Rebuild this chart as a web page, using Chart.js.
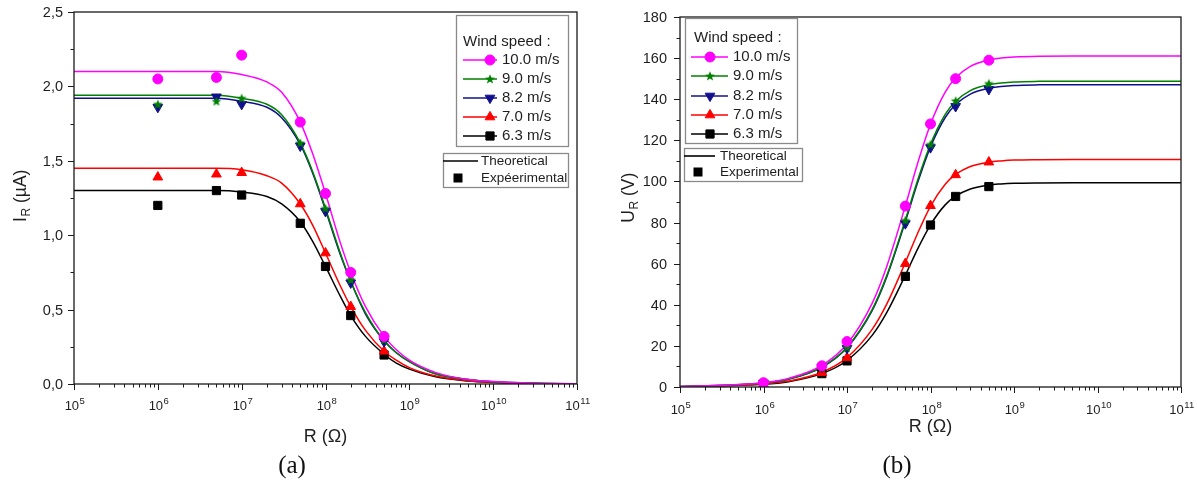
<!DOCTYPE html>
<html>
<head>
<meta charset="utf-8">
<title>I_R and U_R versus load resistance</title>
<script src="https://cdn.jsdelivr.net/npm/chart.js@4.4.0/dist/chart.umd.min.js"></script>
<style>
  html, body { margin: 0; padding: 0; background: #fff; }
  #wrap { position: relative; width: 1197px; height: 484px; overflow: hidden; }
  canvas { position: absolute; top: 0; }
  #chartI { left: 0; }
  #chartU { left: 600px; }
</style>
</head>
<body>
<div id="wrap">
  <canvas id="chartI" width="600" height="484"></canvas>
  <canvas id="chartU" width="597" height="484"></canvas>
</div>
<script>
// ---------- data ----------
// Load resistance (Ohm) for the theoretical curves
const R_GRID = [1e5, 1e6, 2e6, 5e6, 1e7, 2e7, 3e7, 5e7, 7e7, 1e8, 1.5e8, 2e8, 3e8, 5e8, 7e8,
                1e9, 2e9, 5e9, 1e10, 3e10, 1e11];
// Load resistance (Ohm) of the measured points
const R_MEAS = [1e6, 5e6, 1e7, 5e7, 1e8, 2e8, 5e8];

const WIND_SPEEDS = ['10.0 m/s', '9.0 m/s', '8.2 m/s', '7.0 m/s', '6.3 m/s'];

// Current I_R (µA), theoretical
const I_TH_10_0 = [2.10, 2.10, 2.10, 2.10, 2.08, 2.03, 1.96, 1.76, 1.55, 1.28, 0.95, 0.75, 0.52, 0.32, 0.23, 0.16, 0.08, 0.03, 0.016, 0.005, 0.002];
const I_TH_9_0  = [1.94, 1.94, 1.94, 1.94, 1.92, 1.88, 1.81, 1.62, 1.43, 1.18, 0.88, 0.69, 0.48, 0.29, 0.21, 0.15, 0.07, 0.03, 0.015, 0.005, 0.001];
const I_TH_8_2  = [1.92, 1.92, 1.92, 1.92, 1.90, 1.86, 1.79, 1.61, 1.42, 1.17, 0.87, 0.69, 0.47, 0.29, 0.21, 0.15, 0.07, 0.03, 0.015, 0.005, 0.001];
const I_TH_7_0  = [1.45, 1.45, 1.45, 1.45, 1.44, 1.40, 1.35, 1.21, 1.07, 0.88, 0.66, 0.52, 0.36, 0.22, 0.16, 0.11, 0.055, 0.022, 0.011, 0.004, 0.001];
const I_TH_6_3  = [1.30, 1.30, 1.30, 1.30, 1.29, 1.26, 1.21, 1.09, 0.96, 0.79, 0.59, 0.46, 0.32, 0.20, 0.14, 0.10, 0.05, 0.02, 0.01, 0.003, 0.001];

// Current I_R (µA), measured
const I_EXP_10_0 = [2.05, 2.06, 2.21, 1.76, 1.28, 0.75, 0.32];
const I_EXP_9_0  = [1.88, 1.90, 1.92, 1.62, 1.18, 0.70, 0.295];
const I_EXP_8_2  = [1.86, 1.93, 1.88, 1.60, 1.16, 0.68, 0.285];
const I_EXP_7_0  = [1.39, 1.41, 1.42, 1.21, 0.88, 0.52, 0.22];
const I_EXP_6_3  = [1.20, 1.30, 1.27, 1.08, 0.79, 0.46, 0.195];

// Voltage U_R (V), theoretical
const U_TH_10_0 = [0.2, 2.1, 4.2, 10.5, 20.9, 40.7, 58.8, 88.1, 108.7, 127.8, 143.4, 150.4, 156.0, 159.1, 160.0, 160.5, 160.9, 161.0, 161.0, 161.0, 161.0];
const U_TH_9_0  = [0.2, 1.9, 3.9, 9.7, 19.3, 37.6, 54.3, 81.4, 100.5, 118.1, 132.6, 139.0, 144.2, 147.1, 147.9, 148.4, 148.7, 148.8, 148.8, 148.8, 148.8];
const U_TH_8_2  = [0.2, 1.9, 3.8, 9.6, 19.1, 37.2, 53.7, 80.5, 99.3, 116.8, 131.1, 137.4, 142.5, 145.4, 146.2, 146.7, 147.0, 147.1, 147.1, 147.1, 147.1];
const U_TH_7_0  = [0.1, 1.5, 2.9, 7.2, 14.3, 28.0, 40.4, 60.6, 74.7, 87.9, 98.6, 103.4, 107.3, 109.4, 110.0, 110.4, 110.6, 110.7, 110.7, 110.7, 110.7];
const U_TH_6_3  = [0.1, 1.3, 2.6, 6.5, 12.9, 25.1, 36.3, 54.4, 67.1, 78.9, 88.6, 92.8, 96.3, 98.3, 98.8, 99.1, 99.3, 99.4, 99.4, 99.4, 99.4];

// Voltage U_R (V), measured
const U_EXP_10_0 = [2.1, 10.3, 22.1, 88.0, 128.0, 150.0, 159.0];
const U_EXP_9_0  = [1.9, 9.5, 19.2, 81.0, 118.0, 139.2, 147.6];
const U_EXP_8_2  = [1.9, 9.7, 18.8, 79.5, 116.5, 136.5, 144.8];
const U_EXP_7_0  = [1.4, 7.0, 14.2, 60.0, 88.2, 103.2, 109.4];
const U_EXP_6_3  = [1.2, 6.5, 12.7, 53.8, 78.8, 92.7, 97.5];

// Axis ticks
const X_DECADES = [5, 6, 7, 8, 9, 10, 11];
const Y_TICKS_I = [0, 0.5, 1.0, 1.5, 2.0, 2.5];
const Y_TICKS_U = [0, 20, 40, 60, 80, 100, 120, 140, 160, 180];

// ---------- styling ----------
const SANS = '"Liberation Sans", Arial, sans-serif';
const SERIF = '"Liberation Serif", "Times New Roman", serif';
const TEXT = '#1e1e1e';
const SERIES_COLORS = ['#ff00ff', '#008000', '#10108c', '#ff0000', '#000000'];

function makeStar(color) {
  const c = document.createElement('canvas');
  c.width = 12; c.height = 12;
  const g = c.getContext('2d');
  g.fillStyle = color;
  g.beginPath();
  for (let k = 0; k < 10; k++) {
    const r = k % 2 === 0 ? 5.2 : 2.2;
    const ang = -Math.PI / 2 + k * Math.PI / 5;
    const px = 6 + r * Math.cos(ang), py = 6.4 + r * Math.sin(ang);
    if (k === 0) g.moveTo(px, py); else g.lineTo(px, py);
  }
  g.closePath();
  g.fill();
  return c;
}

const MARKERS = [
  { pointStyle: 'circle', radius: 5, rotation: 0 },
  { pointStyle: makeStar(SERIES_COLORS[1]), radius: 5, rotation: 0 },
  { pointStyle: 'triangle', radius: 5.6, rotation: 180 },
  { pointStyle: 'triangle', radius: 5.6, rotation: 0 },
  { pointStyle: 'rect', radius: 5.8, rotation: 0 }
];

// x tick values: 1..9 x 10^n over the decades
const X_TICK_VALUES = [];
for (let i = 0; i < X_DECADES.length; i++) {
  const base = Math.pow(10, X_DECADES[i]);
  for (let m = 1; m <= 9; m++) {
    if (i === X_DECADES.length - 1 && m > 1) break;
    X_TICK_VALUES.push(m * base);
  }
}

function isDecade(v) {
  const l = Math.log10(v);
  return Math.abs(l - Math.round(l)) < 1e-9;
}

function drawLegendMarker(ctx, idx, x, y) {
  const m = MARKERS[idx];
  ctx.fillStyle = SERIES_COLORS[idx];
  ctx.strokeStyle = SERIES_COLORS[idx];
  ctx.lineWidth = 1;
  Chart.helpers.drawPoint(ctx, { pointStyle: m.pointStyle, radius: m.radius, rotation: m.rotation, borderWidth: 1 }, x, y);
}

function decorPlugin(cfg) {
  return {
    id: 'panelDecor',
    afterDraw(chart) {
      const ctx = chart.ctx;
      const a = chart.chartArea;
      const xs = chart.scales.x, ys = chart.scales.y;
      ctx.save();

      // plot frame
      ctx.strokeStyle = '#1a1a1a';
      ctx.lineWidth = 1.3;
      ctx.strokeRect(a.left, a.top, a.right - a.left, a.bottom - a.top);

      // x ticks and labels
      ctx.lineWidth = 1;
      ctx.fillStyle = TEXT;
      xs.ticks.forEach(t => {
        const px = Math.round(xs.getPixelForValue(t.value)) + 0.5;
        const major = isDecade(t.value);
        ctx.beginPath();
        ctx.moveTo(px, a.bottom);
        ctx.lineTo(px, a.bottom + (major ? 6 : 3.5));
        ctx.stroke();
        if (major) {
          const ex = String(Math.round(Math.log10(t.value)));
          ctx.font = '13px ' + SANS;
          const wb = ctx.measureText('10').width;
          ctx.font = '9.5px ' + SANS;
          const we = ctx.measureText(ex).width;
          const x0 = px - (wb + we) / 2;
          ctx.textBaseline = 'alphabetic';
          ctx.textAlign = 'left';
          ctx.font = '13px ' + SANS;
          ctx.fillText('10', x0, cfg.xLabelY + 5);
          ctx.font = '9.5px ' + SANS;
          ctx.fillText(ex, x0 + wb + 0.5, cfg.xLabelY - 1.5);
        }
      });

      // y ticks and labels
      ys.ticks.forEach(t => {
        const py = Math.round(ys.getPixelForValue(t.value)) + 0.5;
        const major = cfg.yLabels.some(v => Math.abs(v - t.value) < 1e-9);
        ctx.beginPath();
        ctx.moveTo(a.left, py);
        ctx.lineTo(a.left - (major ? 6 : 3.5), py);
        ctx.stroke();
        if (major) {
          ctx.font = '14.5px ' + SANS;
          ctx.textAlign = 'right';
          ctx.textBaseline = 'middle';
          ctx.fillText(cfg.fmtY(t.value), a.left - cfg.yLabelGap, py + 0.5);
        }
      });

      // x title
      ctx.font = '18px ' + SANS;
      ctx.textAlign = 'center';
      ctx.textBaseline = 'middle';
      ctx.fillText('R (\u03A9)', (a.left + a.right) / 2, cfg.xTitleY);

      // y title with subscript, rotated
      ctx.save();
      ctx.translate(cfg.yTitleX, cfg.yTitleY);
      ctx.rotate(-Math.PI / 2);
      ctx.textAlign = 'left';
      ctx.textBaseline = 'middle';
      const [main, sub, rest] = cfg.yTitle;
      ctx.font = '17.5px ' + SANS;
      const w1 = ctx.measureText(main).width;
      const w3 = ctx.measureText(rest).width;
      ctx.font = '12px ' + SANS;
      const w2 = ctx.measureText(sub).width;
      let tx = -(w1 + w2 + w3) / 2;
      ctx.font = '17.5px ' + SANS;
      ctx.fillText(main, tx, 0);
      ctx.font = '12px ' + SANS;
      ctx.fillText(sub, tx + w1 + 0.5, 6);
      ctx.font = '17.5px ' + SANS;
      ctx.fillText(rest, tx + w1 + w2 + 0.5, 0);
      ctx.restore();

      // caption
      ctx.font = '25px ' + SERIF;
      ctx.textAlign = 'center';
      ctx.textBaseline = 'middle';
      ctx.fillStyle = '#111';
      ctx.fillText(cfg.caption, cfg.captionX, cfg.captionY);

      // legend: wind speeds
      const L = cfg.legend1;
      ctx.fillStyle = '#fff';
      ctx.fillRect(L.x, L.y, L.w, L.h);
      ctx.strokeStyle = '#8a8a8a';
      ctx.lineWidth = 1.3;
      ctx.strokeRect(L.x + 0.5, L.y + 0.5, L.w, L.h);
      ctx.fillStyle = TEXT;
      ctx.font = '15px ' + SANS;
      ctx.textAlign = 'left';
      ctx.textBaseline = 'middle';
      ctx.fillText('Wind speed :', L.titleX, L.titleY);
      WIND_SPEEDS.forEach((s, i) => {
        const y = L.rowY[i];
        ctx.strokeStyle = SERIES_COLORS[i];
        ctx.lineWidth = 1.6;
        ctx.beginPath();
        ctx.moveTo(L.lineX0, y);
        ctx.lineTo(L.lineX1, y);
        ctx.stroke();
        drawLegendMarker(ctx, i, L.markerX, y);
        ctx.fillStyle = TEXT;
        ctx.font = '15px ' + SANS;
        ctx.fillText(s, L.textX, y);
      });

      // legend: curve kinds
      const K = cfg.legend2;
      ctx.fillStyle = '#fff';
      ctx.fillRect(K.x, K.y, K.w, K.h);
      ctx.strokeStyle = '#8a8a8a';
      ctx.lineWidth = 1.3;
      ctx.strokeRect(K.x + 0.5, K.y + 0.5, K.w, K.h);
      ctx.strokeStyle = '#000';
      ctx.lineWidth = 1.6;
      ctx.beginPath();
      ctx.moveTo(K.lineX0, K.theoY);
      ctx.lineTo(K.lineX1, K.theoY);
      ctx.stroke();
      ctx.fillStyle = '#000';
      ctx.fillRect(K.expX - 4.5, K.expY - 4.5, 9, 9);
      ctx.fillStyle = TEXT;
      ctx.font = '13.5px ' + SANS;
      ctx.fillText('Theoretical', K.textX, K.theoY);
      ctx.fillText(K.expLabel, K.textX, K.expY);

      ctx.restore();
    }
  };
}

function buildChart(canvasId, cfg) {
  const datasets = [];
  cfg.measured.forEach((vals, i) => {
    const m = MARKERS[i];
    datasets.push({
      label: WIND_SPEEDS[i] + ' exp',
      data: R_MEAS.map((r, k) => ({ x: r, y: vals[k] })),
      showLine: false,
      pointStyle: m.pointStyle,
      pointRadius: m.radius,
      pointRotation: m.rotation,
      pointBackgroundColor: SERIES_COLORS[i],
      pointBorderColor: SERIES_COLORS[i],
      pointBorderWidth: 1,
      order: 1
    });
  });
  cfg.theory.forEach((vals, i) => {
    datasets.push({
      label: WIND_SPEEDS[i],
      data: R_GRID.map((r, k) => ({ x: r, y: vals[k] })),
      borderColor: SERIES_COLORS[i],
      borderWidth: 1.5,
      pointRadius: 0,
      fill: false,
      cubicInterpolationMode: 'monotone',
      order: 2
    });
  });

  return new Chart(document.getElementById(canvasId), {
    type: 'line',
    data: { datasets },
    options: {
      responsive: false,
      animation: false,
      devicePixelRatio: 1,
      events: [],
      layout: { autoPadding: false, padding: cfg.padding },
      plugins: { legend: { display: false }, tooltip: { enabled: false } },
      scales: {
        x: {
          type: 'logarithmic',
          min: 1e5, max: 1e11,
          afterBuildTicks: s => { s.ticks = X_TICK_VALUES.map(v => ({ value: v })); },
          ticks: { display: false },
          grid: { display: false },
          border: { display: false },
          afterFit: s => { s.height = cfg.xAxisH; }
        },
        y: {
          type: 'linear',
          min: cfg.yMin, max: cfg.yMax,
          ticks: { display: false, stepSize: cfg.yStep },
          grid: { display: false },
          border: { display: false },
          afterFit: s => { s.width = cfg.yAxisW; }
        }
      }
    },
    plugins: [decorPlugin(cfg)]
  });
}

// (a) current through the load
buildChart('chartI', {
  theory: [I_TH_10_0, I_TH_9_0, I_TH_8_2, I_TH_7_0, I_TH_6_3],
  measured: [I_EXP_10_0, I_EXP_9_0, I_EXP_8_2, I_EXP_7_0, I_EXP_6_3],
  yMin: 0, yMax: 2.5, yStep: 0.25,
  yLabels: Y_TICKS_I,
  fmtY: v => v.toFixed(1).replace('.', ','),
  padding: { left: 0, right: 23, top: 12, bottom: 0 },
  yAxisW: 74, xAxisH: 100,
  yLabelGap: 11,
  xLabelY: 405,
  xTitleY: 437,
  yTitle: ['I', 'R', ' (\u00B5A)'], yTitleX: 21, yTitleY: 196,
  caption: '(a)', captionX: 292, captionY: 466,
  legend1: { x: 456, y: 15, w: 112, h: 131, titleX: 463, titleY: 42,
             rowY: [60, 79, 98, 117, 136], lineX0: 463, lineX1: 497, markerX: 490, textX: 502 },
  legend2: { x: 443, y: 153, w: 125, h: 34, lineX0: 443, lineX1: 478, textX: 481,
             theoY: 161, expX: 458, expY: 178, expLabel: 'Exp\u00E9erimental' }
});

// (b) voltage across the load
buildChart('chartU', {
  theory: [U_TH_10_0, U_TH_9_0, U_TH_8_2, U_TH_7_0, U_TH_6_3],
  measured: [U_EXP_10_0, U_EXP_9_0, U_EXP_8_2, U_EXP_7_0, U_EXP_6_3],
  yMin: 0, yMax: 180, yStep: 10,
  yLabels: Y_TICKS_U,
  fmtY: v => String(Math.round(v)),
  padding: { left: 0, right: 16, top: 17, bottom: 0 },
  yAxisW: 80, xAxisH: 97,
  yLabelGap: 13,
  xLabelY: 409,
  xTitleY: 427,
  yTitle: ['U', 'R', ' (V)'], yTitleX: 29, yTitleY: 198,
  caption: '(b)', captionX: 297, captionY: 466,
  legend1: { x: 85, y: 18, w: 112, h: 125, titleX: 94, titleY: 38,
             rowY: [57, 76, 96, 115, 134], lineX0: 91, lineX1: 128, markerX: 110, textX: 133 },
  legend2: { x: 84, y: 148, w: 118, h: 33, lineX0: 84, lineX1: 115, textX: 120,
             theoY: 156, expX: 98, expY: 172, expLabel: 'Experimental' }
});
</script>
</body>
</html>
